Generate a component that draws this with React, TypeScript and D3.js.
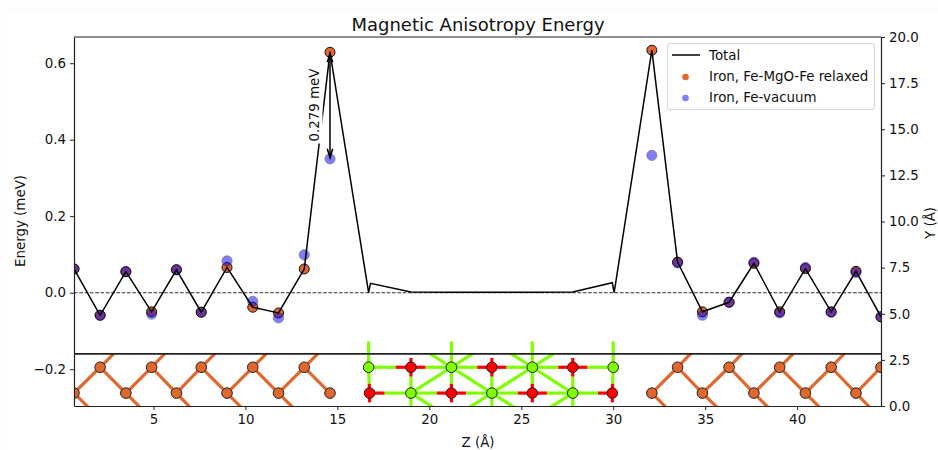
import React, { useEffect, useRef } from "react";
import * as d3 from "d3";

const width = 938;
const height = 450;
const margin = { top: 37, right: 57, bottom: 44, left: 74 };

// energy along the stack
const totalZ = [0.68, 2.1, 3.5, 4.9, 6.25, 7.6, 9.0, 10.4, 11.8, 13.2, 14.6, 16.7, 16.8, 19.0, 21.2, 23.4, 25.6, 27.8, 29.95, 30.05, 32.1, 33.5, 34.85, 36.3, 37.65, 39.05, 40.45, 41.85, 43.2, 44.56];
const totalE = [0.062, -0.059, 0.055, -0.05, 0.06, -0.051, 0.066, -0.038, -0.053, 0.062, 0.6285, 0.0, 0.0245, 0.002, 0.001, 0.001, 0.001, 0.002, 0.026, 0.0, 0.634, 0.08, -0.05, -0.025, 0.077, -0.05, 0.063, -0.05, 0.056, -0.063];

const ironZ = [0.68, 2.1, 3.5, 4.9, 6.25, 7.6, 9.0, 10.4, 11.8, 13.2, 14.6, 32.1, 33.5, 34.85, 36.3, 37.65, 39.05, 40.45, 41.85, 43.2, 44.56];
const relaxedE = [0.062, -0.059, 0.055, -0.05, 0.06, -0.051, 0.066, -0.038, -0.053, 0.062, 0.6285, 0.634, 0.08, -0.05, -0.025, 0.077, -0.05, 0.063, -0.05, 0.056, -0.063];
const vacuumE = [0.062, -0.059, 0.055, -0.056, 0.06, -0.051, 0.083, -0.0225, -0.066, 0.099, 0.35, 0.359, 0.078, -0.059, -0.025, 0.0795, -0.053, 0.066, -0.051, 0.053, -0.063];

// atoms of the structure underneath, Z and Y in angstrom
const lowY = 0.7;
const highY = 2.1;
const belowY = -0.7;
const aboveY = 3.5;
const feLeftZ = [0.68, 2.1, 3.5, 4.9, 6.25, 7.6, 9.0, 10.4, 11.8, 13.2, 14.6];
const feRightZ = [32.1, 33.5, 34.85, 36.3, 37.65, 39.05, 40.45, 41.85, 43.2, 44.56];
const mgoHighZ = [16.7, 19.0, 21.2, 23.4, 25.6, 27.8, 30.0];
const mgoLowZ = [16.75, 19.0, 21.2, 23.4, 25.6, 27.8, 29.95];

const legendLabels = ["Total", "Iron, Fe-MgO-Fe relaxed", "Iron, Fe-vacuum"];

const feColor = "#e0682f";
const mgColor = "#7fff00";
const oColor = "#ff0000";
const vacColor = "#0000ff";
const ink = "#222";
const fontSize = 13.4;

export default function App() {
  const ref = useRef<SVGSVGElement>(null);

  useEffect(() => {
    const svg = d3.select(ref.current);
    svg.selectAll("*").remove();
    const x0 = margin.left;
    const x1 = width - margin.right;
    const y0 = height - margin.bottom;
    const y1 = margin.top;

    const x = d3.scaleLinear().domain([0.68, 44.56]).range([x0, x1]);
    const yE = d3.scaleLinear().domain([-0.2962, 0.6685]).range([y0, y1]);
    const yA = d3.scaleLinear().domain([0, 20]).range([y0, y1]);
    const divide = yA(2.82);

    svg.append("rect").attr("width", width).attr("height", height).attr("fill", "#fdfdfd");
    svg.append("rect").attr("x", 8).attr("y", 12).attr("width", width - 8).attr("height", height - 12).attr("fill", "#fff");

    const defs = svg.append("defs");
    defs.append("clipPath").attr("id", "plot").append("rect")
      .attr("x", x0).attr("y", y1).attr("width", x1 - x0).attr("height", y0 - y1);
    defs.append("clipPath").attr("id", "slab").append("rect")
      .attr("x", x0).attr("y", divide).attr("width", x1 - x0).attr("height", y0 - divide);

    // bonds
    const bond = (g: any, za: number, ya: number, zb: number, yb: number, color: string) =>
      g.append("line")
        .attr("x1", x(za)).attr("y1", yA(ya)).attr("x2", x(zb)).attr("y2", yA(yb))
        .attr("stroke", color).attr("stroke-width", 3.2);

    const slab = svg.append("g").attr("clip-path", "url(#slab)");
    const plot = svg.append("g").attr("clip-path", "url(#plot)");

    [feLeftZ, feRightZ].forEach((zs) => {
      d3.pairs(zs).forEach(([a, b], i) => {
        if (i % 2 === 0) {
          bond(slab, a, lowY, b, highY, feColor);
          bond(slab, a, lowY, b, belowY, feColor);
        } else {
          bond(slab, a, highY, b, lowY, feColor);
          bond(slab, a, highY, b, aboveY, feColor);
        }
      });
    });

    // Mg-Mg diagonals
    [[1, 2], [2, 3], [3, 4], [4, 5]].forEach(([a, b]) => {
      const aLow = a % 2 === 1;
      bond(slab, aLow ? mgoLowZ[a] : mgoHighZ[a], aLow ? lowY : highY, aLow ? mgoHighZ[b] : mgoLowZ[b], aLow ? highY : lowY, mgColor);
    });
    [2, 4].forEach((i) => {
      bond(slab, mgoHighZ[i], highY, mgoHighZ[i - 1], aboveY, mgColor);
      bond(slab, mgoHighZ[i], highY, mgoHighZ[i + 1], aboveY, mgColor);
    });
    [[1, 2], [3, 2], [3, 4], [5, 4]].forEach(([a, b]) => {
      bond(slab, mgoLowZ[a], lowY, mgoLowZ[b], belowY, mgColor);
    });

    // Mg-O bonds: red for the part near the oxygen
    const part = 0.36;
    const mgo = (zo: number, yo: number, zm: number, ym: number) => {
      const zs = zo + (zm - zo) * part;
      const ys = yo + (ym - yo) * part;
      bond(plot, zm, ym, zs, ys, mgColor);
      bond(plot, zo, yo, zs, ys, oColor);
    };
    mgoHighZ.forEach((z, i) => {
      const zl = mgoLowZ[i];
      if (i % 2 === 0) {
        mgo(zl, lowY, z, highY);
        bond(plot, z, highY, z, aboveY, mgColor);
        bond(plot, zl, lowY, zl, lowY - (lowY - belowY) * part, oColor);
      } else {
        mgo(z, highY, zl, lowY);
        bond(plot, z, highY, z, highY + (aboveY - highY) * part, oColor);
        bond(plot, zl, lowY, zl, belowY, mgColor);
      }
      if (i < mgoHighZ.length - 1) {
        if (i % 2 === 0) {
          mgo(mgoHighZ[i + 1], highY, z, highY);
          mgo(zl, lowY, mgoLowZ[i + 1], lowY);
        } else {
          mgo(z, highY, mgoHighZ[i + 1], highY);
          mgo(mgoLowZ[i + 1], lowY, zl, lowY);
        }
      }
    });

    // atoms
    const atom = (z: number, y: number, color: string) =>
      plot.append("circle")
        .attr("cx", x(z)).attr("cy", yA(y)).attr("r", 5.3)
        .attr("fill", color).attr("stroke", ink).attr("stroke-width", 1);

    [feLeftZ, feRightZ].forEach((zs) =>
      zs.forEach((z, i) => atom(z, i % 2 === 0 ? lowY : highY, feColor))
    );
    mgoHighZ.forEach((z, i) => atom(z, highY, i % 2 === 0 ? mgColor : oColor));
    mgoLowZ.forEach((z, i) => atom(z, lowY, i % 2 === 0 ? oColor : mgColor));

    // divider between plot and structure
    svg.append("line")
      .attr("x1", x0).attr("x2", x1).attr("y1", divide).attr("y2", divide)
      .attr("stroke", ink).attr("stroke-width", 1.7);

    // zero line
    plot.append("line")
      .attr("x1", x0).attr("x2", x1).attr("y1", yE(0)).attr("y2", yE(0))
      .attr("stroke", "#333").attr("stroke-width", 1.1).attr("stroke-dasharray", "3.7,1.6");

    // scatter + line
    ironZ.forEach((z, i) => {
      plot.append("circle")
        .attr("cx", x(z)).attr("cy", yE(relaxedE[i])).attr("r", 5)
        .attr("fill", feColor).attr("stroke", "#111").attr("stroke-width", 1);
    });
    ironZ.forEach((z, i) => {
      plot.append("circle")
        .attr("cx", x(z)).attr("cy", yE(vacuumE[i])).attr("r", 5.1)
        .attr("fill", vacColor).attr("stroke", "#000").attr("stroke-width", 0.8).attr("opacity", 0.5);
    });

    const total = d3.line<number>().x((d) => x(d)).y((_, i) => yE(totalE[i]));
    plot.append("path")
      .attr("d", total(totalZ))
      .attr("fill", "none").attr("stroke", "#000").attr("stroke-width", 1.5);

    // arrow annotation
    const ax = x(ironZ[10]);
    const top = yE(relaxedE[10]);
    const bot = yE(vacuumE[10]);
    const label = svg.append("g").attr("transform", `translate(${ax - 15},${(top + bot) / 2 - 0.5}) rotate(-90)`);
    label.append("rect").attr("x", -38.5).attr("y", -9).attr("width", 77).attr("height", 16.5).attr("fill", "#fff");
    label.append("text")
      .attr("text-anchor", "middle").attr("dy", "0.32em")
      .attr("font-size", fontSize).attr("fill", "#111").text("0.279 meV");
    svg.append("line")
      .attr("x1", ax).attr("x2", ax).attr("y1", top + 1).attr("y2", bot - 1)
      .attr("stroke", "#000").attr("stroke-width", 1.5);
    const head = d3.line();
    svg.append("path")
      .attr("d", head([[ax - 2.7, top + 10], [ax, top + 1], [ax + 2.7, top + 10]]))
      .attr("fill", "none").attr("stroke", "#000").attr("stroke-width", 1.5);
    svg.append("path")
      .attr("d", head([[ax - 2.7, bot - 10], [ax, bot - 1], [ax + 2.7, bot - 10]]))
      .attr("fill", "none").attr("stroke", "#000").attr("stroke-width", 1.5);

    // axes
    const axis = (g: any) => {
      g.selectAll("path").attr("stroke", "#222").attr("stroke-width", 1.2);
      g.selectAll("line").attr("stroke", "#222").attr("stroke-width", 1);
      g.selectAll("text").attr("font-size", fontSize).attr("font-family", "DejaVu Sans").attr("fill", "#111");
    };
    svg.append("g")
      .attr("transform", `translate(0,${y0})`)
      .call(d3.axisBottom(x).tickValues(d3.range(5, 45, 5)).tickFormat(d3.format("d")).tickSize(4).tickPadding(4).tickSizeOuter(0) as any)
      .call(axis);
    svg.append("g")
      .attr("transform", `translate(${x0},0)`)
      .call(d3.axisLeft(yE).tickValues([-0.2, 0, 0.2, 0.4, 0.6]).tickFormat(d3.format(".1f")).tickSize(4).tickPadding(4).tickSizeOuter(0) as any)
      .call(axis);
    svg.append("g")
      .attr("transform", `translate(${x1},0)`)
      .call(d3.axisRight(yA).tickValues(d3.range(0, 22.5, 2.5)).tickFormat(d3.format(".1f")).tickSize(4).tickPadding(4).tickSizeOuter(0) as any)
      .call(axis);
    svg.append("line")
      .attr("x1", x0).attr("x2", x1).attr("y1", y1).attr("y2", y1)
      .attr("stroke", "#222").attr("stroke-width", 1.2);

    // titles
    const txt = (px: number, py: number, s: string, size: number, rot = 0) =>
      svg.append("text")
        .attr("transform", `translate(${px},${py}) rotate(${rot})`)
        .attr("text-anchor", "middle").attr("font-size", size).attr("fill", "#111")
        .text(s);
    txt(478, 31, "Magnetic Anisotropy Energy", 18);
    txt(478, 446.5, "Z (Å)", fontSize);
    txt(25, 221, "Energy (meV)", fontSize, -90);
    txt(934.5, 223, "Y (Å)", fontSize, -90);

    // legend
    const legend = svg.append("g");
    legend.append("rect")
      .attr("x", 667.5).attr("y", 43.5).attr("width", 207).attr("height", 66).attr("rx", 2.5)
      .attr("fill", "#fff").attr("fill-opacity", 0.9).attr("stroke", "#d5d5d5").attr("stroke-width", 1);
    legend.append("line")
      .attr("x1", 672).attr("x2", 700).attr("y1", 55).attr("y2", 55)
      .attr("stroke", "#000").attr("stroke-width", 1.5);
    legend.append("circle").attr("cx", 685.5).attr("cy", 77).attr("r", 3.3).attr("fill", feColor);
    legend.append("circle").attr("cx", 685.5).attr("cy", 98).attr("r", 3.3).attr("fill", vacColor).attr("opacity", 0.5);
    legendLabels.forEach((s, i) => {
      legend.append("text")
        .attr("x", 709).attr("y", 55 + i * 21).attr("dy", "0.35em")
        .attr("font-size", fontSize).attr("fill", "#111").text(s);
    });
  }, []);

  return (
    <svg
      ref={ref}
      width={width}
      height={height}
      fontFamily="DejaVu Sans"
      style={{ position: "absolute", left: 0, top: 0 }}
    />
  );
}
